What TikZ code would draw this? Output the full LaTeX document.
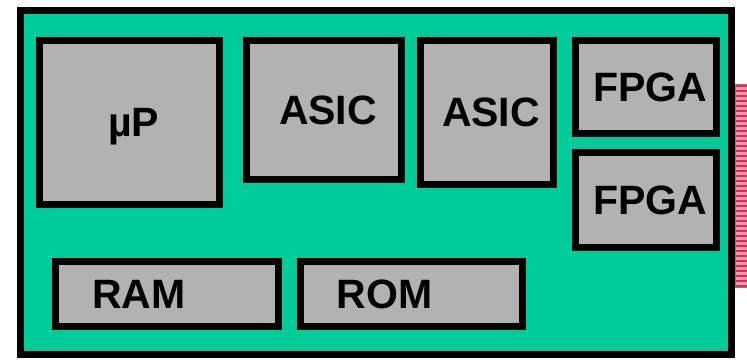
\documentclass[tikz,border=0pt]{standalone}
\usepackage{fontspec}
\setmainfont{Liberation Sans}

\definecolor{boardgreen}{HTML}{00CC99}
\definecolor{chipgray}{HTML}{B2B2B2}
\definecolor{pinred}{HTML}{E8264F}
\definecolor{pinpink}{HTML}{FF9AAE}

\tikzset{
	chip/.style = {draw = black, fill = chipgray, line width = 7pt, inner sep = 0pt,
		font = \fontsize{41}{48}\selectfont\bfseries, text depth = 0pt,
		execute at begin node = \hspace*{8pt}},
	mem/.style = {chip, text width = 166pt, align = left}
}

\begin{document}
\begin{tikzpicture}[x = 1pt, y = -1pt]

	\useasboundingbox (0, 0) rectangle (747, 359);

	% Board

	\draw [fill = boardgreen, line width = 7pt] (20.5, 10.5) rectangle (731.5, 354.5);

	% Edge connector

	\fill [pinpink] (735, 84) rectangle (750, 287);
	\foreach \y in {86, 91, ..., 286}
		\draw [pinred, line width = 2.5pt] (735, \y) -- (750, \y);
	\draw [gray, line width = 1pt] (735, 84) rectangle (750, 287);

	% Processor and logic

	\node [chip, minimum width = 180pt, minimum height = 164pt] (up) at (129.5, 122.5) {µP};
	\node [chip, minimum width = 155pt, minimum height = 139pt] (asicA) at (324, 110) {ASIC};
	\node [chip, minimum width = 133pt, minimum height = 144pt] (asicB) at (487, 112.5) {ASIC};
	\node [chip, minimum width = 141pt, minimum height = 93pt] (fpgaA) at (646, 87) {FPGA};
	\node [chip, minimum width = 141pt, minimum height = 95pt] (fpgaB) at (646, 200) {FPGA};

	% Memory

	\node [mem, minimum width = 223pt, minimum height = 65pt] (ram) at (167, 294) {RAM};
	\node [mem, minimum width = 222pt, minimum height = 65pt] (rom) at (411.5, 294) {ROM};

\end{tikzpicture}
\end{document}
